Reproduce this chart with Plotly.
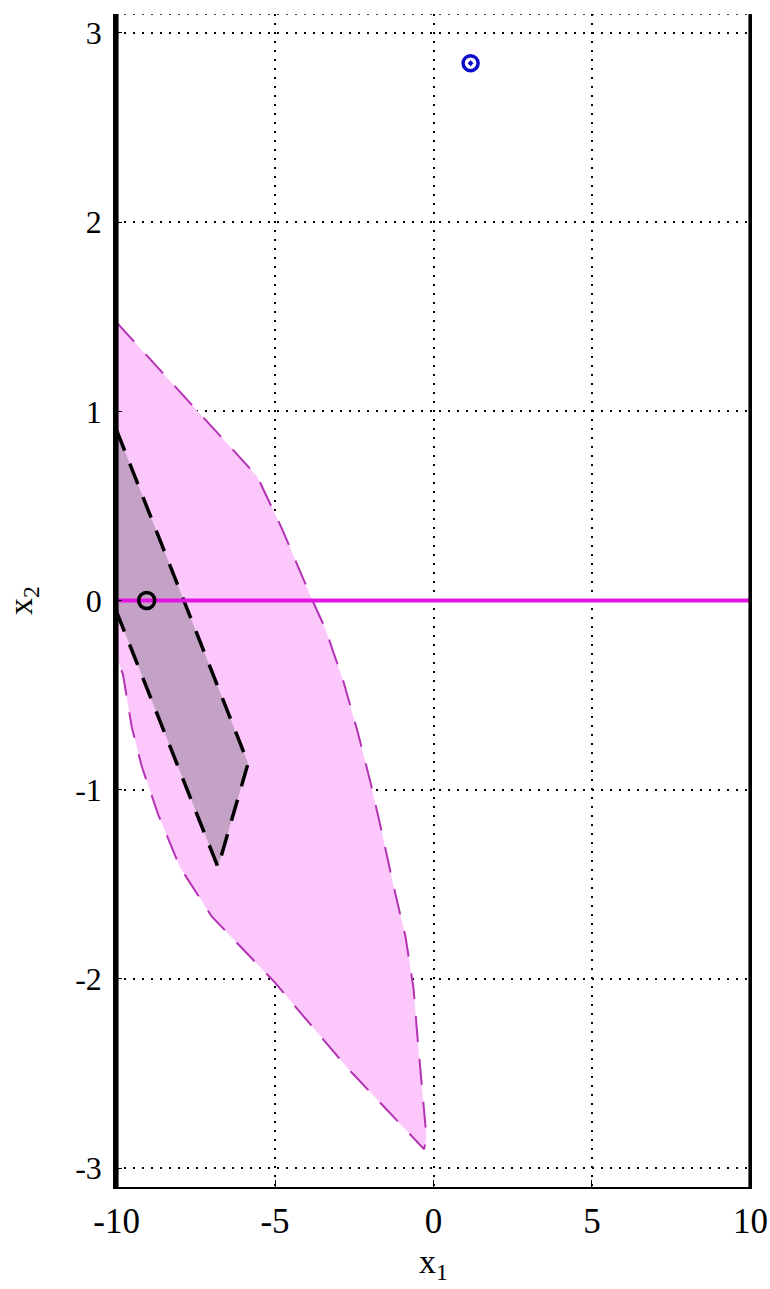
import plotly.graph_objects as go

# ---- data ----
x_ticks = [-10, -5, 0, 5, 10]
x_ticklabels = ["-10", "-5", "0", "5", "10"]
y_ticks = [-3, -2, -1, 0, 1, 2, 3]
y_ticklabels = ["-3", "-2", "-1", "0", "1", "2", "3"]

# light (outer) region, clockwise starting at upper-left on x1=-10
light_x = [-10, -5.56, -4.77, -4.1, -3.82, -3.41, -2.84, -2.4, -1.99, -1.61,
           -1.26, -0.88, -0.63, -0.5, -0.35, -0.22, -0.3,
           -2.72, -5.0, -7.0, -8.0, -8.69, -9.2, -9.52, -9.8, -10]
light_y = [1.47, 0.655, 0.375, 0.11, 0.0, -0.15, -0.43, -0.69, -0.96, -1.24,
           -1.51, -1.78, -2.05, -2.32, -2.58, -2.84, -2.9,
           -2.47, -2.02, -1.67, -1.41, -1.13, -0.88, -0.67, -0.39, -0.3]

# dark (inner) region
dark_x = [-10, -5.85, -6.8, -10]
dark_y = [0.9, -0.86, -1.41, -0.06]

# constraint line x2 = 0
hline_x = [-10, 10]
hline_y = [0, 0]

# bounds x1 = -10 and x1 = 10
bound_left = -10
bound_right = 10

# points
black_pt = (-9.05, 0.0)
blue_pt = (1.17, 2.84)

x_range = [-10.05, 10.05]
y_range = [-3.1, 3.1]

LIGHT_FILL = "rgb(252,200,252)"
LIGHT_EDGE = "rgb(180,50,180)"
DARK_FILL = "rgb(196,162,198)"
MAGENTA = "rgb(225,20,225)"
FONT = "Liberation Serif"

fig = go.Figure()

fig.add_trace(go.Scatter(x=light_x + [light_x[0]], y=light_y + [light_y[0]],
                         mode="lines", fill="toself", fillcolor=LIGHT_FILL,
                         line=dict(width=0), hoverinfo="skip", showlegend=False))
fig.add_trace(go.Scatter(x=light_x, y=light_y, mode="lines",
                         line=dict(color=LIGHT_EDGE, width=2, dash="26px,17px"),
                         hoverinfo="skip", showlegend=False))
fig.add_trace(go.Scatter(x=dark_x + [dark_x[0]], y=dark_y + [dark_y[0]],
                         mode="lines", fill="toself", fillcolor=DARK_FILL,
                         line=dict(width=0), hoverinfo="skip", showlegend=False))
fig.add_trace(go.Scatter(x=dark_x, y=dark_y, mode="lines",
                         line=dict(color="black", width=3.5, dash="22px,14px"),
                         hoverinfo="skip", showlegend=False))
fig.add_trace(go.Scatter(x=hline_x, y=hline_y, mode="lines",
                         line=dict(color=MAGENTA, width=4),
                         hoverinfo="skip", showlegend=False))
for bx in (bound_left, bound_right):
    fig.add_trace(go.Scatter(x=[bx, bx], y=y_range, mode="lines",
                             line=dict(color="black", width=4),
                             hoverinfo="skip", showlegend=False, cliponaxis=False))
fig.add_trace(go.Scatter(x=[black_pt[0]], y=[black_pt[1]], mode="markers",
                         marker=dict(symbol="circle-open", size=16, color="black",
                                     line=dict(width=3.5, color="black")),
                         showlegend=False))
fig.add_trace(go.Scatter(x=[blue_pt[0]], y=[blue_pt[1]], mode="markers",
                         marker=dict(symbol="circle-open-dot", size=15, color="rgb(10,10,200)",
                                     line=dict(width=3.5, color="rgb(10,10,200)")),
                         showlegend=False))

fig.add_shape(type="line", xref="paper", yref="y", x0=0, x1=1,
              y0=y_range[1], y1=y_range[1],
              line=dict(color="black", width=1.5, dash="2px,7px"))

# x-axis title as annotation for precise placement
fig.add_annotation(text="x<sub>1</sub>", xref="x", yref="paper",
                   x=0, y=-0.047, xanchor="center", yanchor="top",
                   showarrow=False, borderpad=0,
                   font=dict(family=FONT, size=34, color="black"))

fig.update_layout(
    width=770, height=1289,
    margin=dict(l=115, r=18, t=14, b=102, autoexpand=False),
    paper_bgcolor="white", plot_bgcolor="white",
    font=dict(family=FONT, size=34, color="black"),
    xaxis=dict(range=x_range, tickvals=x_ticks, ticktext=x_ticklabels,
               automargin=False,
               showgrid=True, gridcolor="black", gridwidth=1.5, griddash="2px,7px",
               zeroline=False, showline=True, linecolor="black", linewidth=2,
               ticks="inside", ticklen=7, tickcolor="black",
               ticklabelstandoff=2,
               tickfont=dict(family=FONT, size=35)),
    yaxis=dict(range=y_range, tickvals=y_ticks, ticktext=y_ticklabels,
               automargin=False,
               showgrid=True, gridcolor="black", gridwidth=1.5, griddash="2px,7px",
               zeroline=False, showline=True, linecolor="black", linewidth=1.5,
               ticks="inside", ticklen=7, tickcolor="black",
               ticklabelstandoff=5,
               title=dict(text="x<sub>2</sub>", font=dict(family=FONT, size=34), standoff=32),
               tickfont=dict(family=FONT, size=32)),
)

fig.write_html("out.html")
